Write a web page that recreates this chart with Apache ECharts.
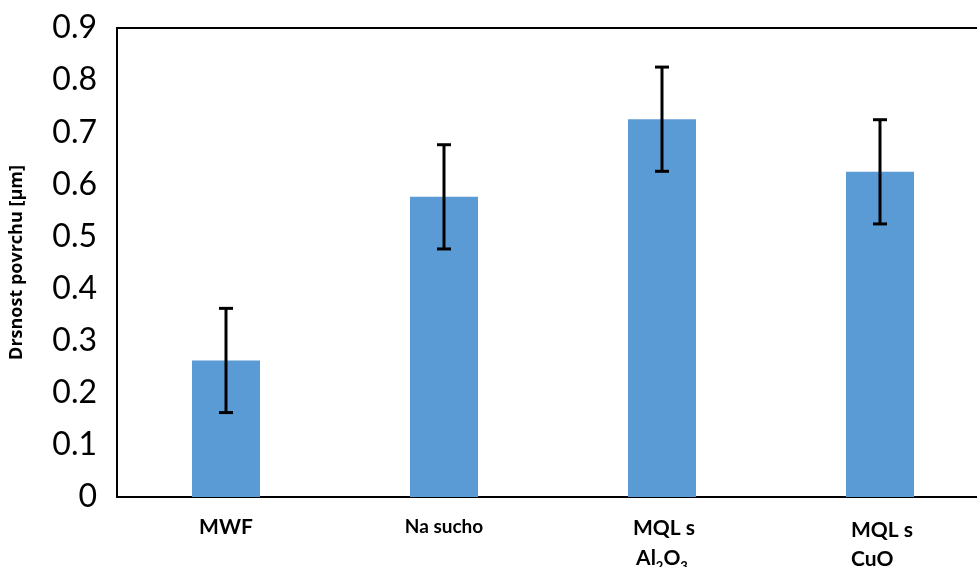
<!DOCTYPE html>
<html>
<head>
<meta charset="utf-8">
<script src="https://cdn.jsdelivr.net/npm/echarts@6/dist/echarts.min.js"></script>
<style>
html,body{margin:0;padding:0;background:#fff;}
#chart{width:977px;height:567px;}
</style>
</head>
<body>
<div id="chart"></div>
<script>
var categories = ['MWF', 'Na sucho', 'MQL s Al2O3', 'MQL s CuO'];
var values = [0.262, 0.576, 0.725, 0.624];
var errors = [0.1, 0.1, 0.1, 0.1];
var yTicks = [0, 0.1, 0.2, 0.3, 0.4, 0.5, 0.6, 0.7, 0.8, 0.9];

var labelMap = {
  'MWF': '{big|MWF}',
  'Na sucho': '{mid|Na sucho}',
  'MQL s Al2O3': '{l1|MQL s}\n{l2|Al}{sub|2}{l2|O}{sub|3}',
  'MQL s CuO': '{c1|MQL s}\n{c2|CuO}'
};

var errData = categories.map(function (c, i) {
  return [i, values[i] - errors[i], values[i] + errors[i]];
});

var F = 'Lato';
var chart = echarts.init(document.getElementById('chart'));
chart.setOption({
  animation: false,
  backgroundColor: '#fff',
  grid: {
    left: 117, top: 28, bottom: 70, right: -12,
    outerBoundsMode: 'none',
    containLabel: false,
    show: true, borderColor: '#000', borderWidth: 2, backgroundColor: 'transparent'
  },
  xAxis: {
    type: 'category',
    data: categories,
    axisLine: { show: true, lineStyle: { color: '#000', width: 2 } },
    axisTick: { show: false },
    axisLabel: {
      margin: 16,
      interval: 0,
      formatter: function (v) { return labelMap[v]; },
      rich: {
        big: { fontFamily: F, fontWeight: 'bold', fontSize: 21, color: '#000', padding: [4, 0, 0, 0] },
        mid: { fontFamily: F, fontWeight: 'bold', fontSize: 19, color: '#000', padding: [4, 0, 0, 0] },
        l1: { fontFamily: F, fontWeight: 'bold', fontSize: 21, color: '#000', lineHeight: 30, width: 64, align: 'left', padding: [0, 0, 0, 6] },
        l2: { fontFamily: F, fontWeight: 'bold', fontSize: 21, color: '#000', lineHeight: 30 },
        sub: { fontFamily: F, fontWeight: 'bold', fontSize: 13, color: '#000', verticalAlign: 'bottom', lineHeight: 22 },
        c1: { fontFamily: F, fontWeight: 'bold', fontSize: 21, color: '#000', lineHeight: 31, width: 64, align: 'left', padding: [4, 0, 0, 6] },
        c2: { fontFamily: F, fontWeight: 'bold', fontSize: 21, color: '#000', lineHeight: 31, width: 64, align: 'left', padding: [0, 0, 0, 6] }
      }
    }
  },
  yAxis: {
    type: 'value',
    min: 0, max: 0.9, interval: 0.1,
    name: 'Drsnost povrchu [µm]',
    nameLocation: 'middle',
    nameGap: 91,
    nameTextStyle: { fontFamily: 'Open Sans', fontWeight: 'bold', fontSize: 18, color: '#000' },
    axisLine: { show: true, lineStyle: { color: '#000', width: 2 } },
    axisTick: { show: false },
    splitLine: { show: false },
    axisLabel: {
      margin: 20,
      fontFamily: F, fontSize: 32, color: '#000',
      formatter: function (v) {
        var t = yTicks.filter(function (x) { return Math.abs(x - v) < 1e-9; });
        return t.length ? String(Math.round(v * 10) / 10) : '';
      }
    }
  },
  series: [
    {
      type: 'bar',
      data: values,
      barWidth: 68,
      itemStyle: { color: '#5B9BD5' }
    },
    {
      type: 'custom',
      data: errData,
      z: 10,
      renderItem: function (params, api) {
        var x = api.coord([api.value(0), 0])[0];
        var lo = api.coord([api.value(0), api.value(1)])[1];
        var hi = api.coord([api.value(0), api.value(2)])[1];
        var hw = 7;
        var st = { stroke: '#000', lineWidth: 3 };
        return {
          type: 'group',
          children: [
            { type: 'line', shape: { x1: x, y1: hi, x2: x, y2: lo }, style: st },
            { type: 'line', shape: { x1: x - hw, y1: hi, x2: x + hw, y2: hi }, style: st },
            { type: 'line', shape: { x1: x - hw, y1: lo, x2: x + hw, y2: lo }, style: st }
          ]
        };
      }
    }
  ]
});
</script>
</body>
</html>
